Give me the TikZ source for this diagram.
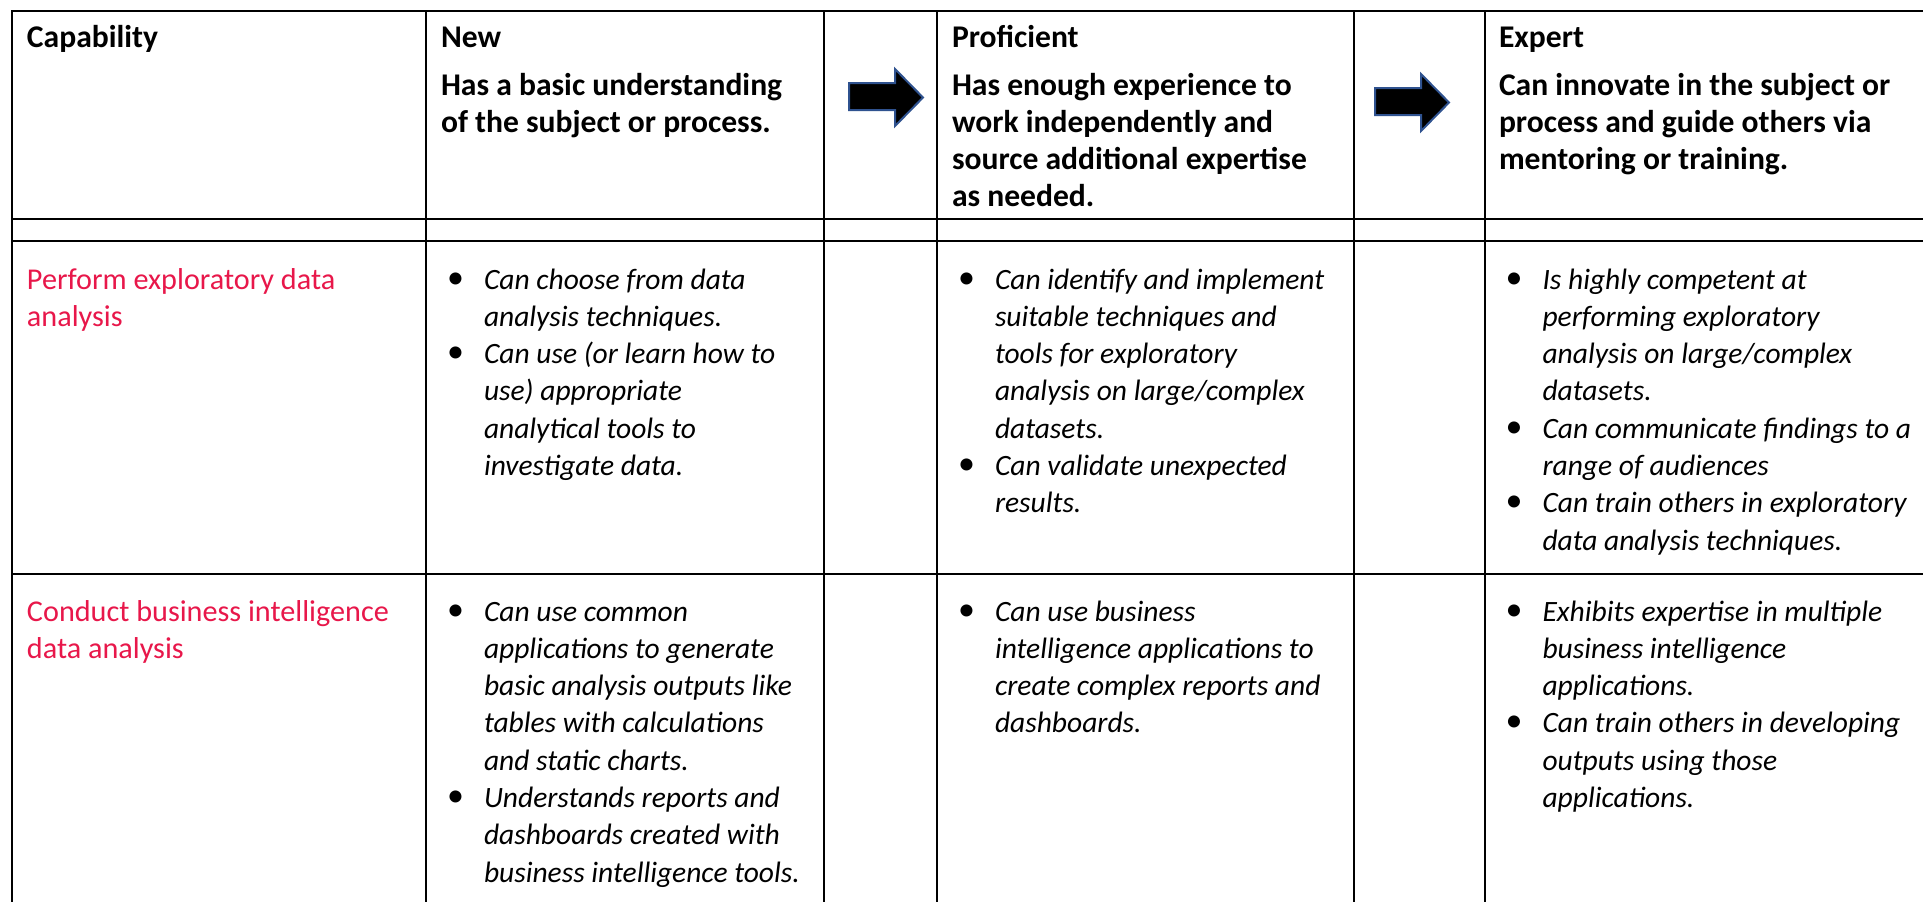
\documentclass[tikz,border=0pt]{standalone}
\usepackage{fontspec}
\setmainfont{Carlito}
\definecolor{capred}{RGB}{232,23,74}
\definecolor{arrowedge}{RGB}{47,82,143}
\newcommand\hsz{\fontsize{29.5}{37.3}\selectfont}
\newcommand\bsz{\fontsize{31.6}{37.3}\selectfont}
\newcommand\rsz{\fontsize{30.2}{37.3}\selectfont}
\newcommand\blt{\makebox[37pt][l]{\raisebox{1pt}{\fontsize{34}{37.3}\selectfont\upshape •}}}
\newcommand\tb[1]{\begin{tabular}[t]{@{}l@{}l@{}}#1\end{tabular}}
\newcommand\tl[1]{\begin{tabular}[t]{@{}l@{}}#1\end{tabular}}
\begin{document}
\begin{tikzpicture}[x=1pt,y=-1pt,
  vline/.style={line width=2pt,black},
  hline/.style={line width=2.3pt,black},
  txt/.style={anchor=base west,inner sep=0pt,outer sep=0pt},
  head/.style={txt,font=\bsz\bfseries},
  body/.style={txt,font=\hsz\itshape},
  capname/.style={txt,font=\rsz,text=capred},
  arrowshape/.style={fill=black,draw=arrowedge,line width=2pt,line join=miter}]
\useasboundingbox[fill=white] (0,0) rectangle (1923,902);
% grid
\foreach \yy in {11,219,241,574} \draw[hline] (11,\yy) -- (1923,\yy);
\foreach \xx in {12,426,824,936.5,1353.5,1485} \draw[vline] (\xx,10) -- (\xx,902);
% arrows
\path[arrowshape] (849,83) -- (895,83) -- (895,69) -- (923,97.5) -- (895,126) -- (895,110) -- (849,110) -- cycle;
\path[arrowshape,shift={(526,5)}] (849,83) -- (895,83) -- (895,69) -- (923,97.5) -- (895,126) -- (895,110) -- (849,110) -- cycle;
% header
\node[head] (hcap) at (27,47) {Capability};
\node[head] (hnew) at (441,47) {New};
\node[head] (hnewd) at (441,95) {\tl{Has a basic understanding\\of the subject or process.}};
\node[head] (hpro) at (952,47) {Proficient};
\node[head] (hprod) at (952,95) {\tl{Has enough experience to\\work independently and\\source additional expertise\\as needed.}};
\node[head] (hexp) at (1499,47) {Expert};
\node[head] (hexpd) at (1499,95) {\tl{Can innovate in the subject or\\process and guide others via\\mentoring or training.}};
% row 1
\node[capname] (c1) at (27,289) {\tl{Perform exploratory data\\analysis}};
\node[body] (n1) at (447,289) {\tb{\blt & Can choose from data\\ & analysis techniques.\\ \blt & Can use (or learn how to\\ & use) appropriate\\ & analytical tools to\\ & investigate data.}};
\node[body] (p1) at (958,289) {\tb{\blt & Can identify and implement\\ & suitable techniques and\\ & tools for exploratory\\ & analysis on large/complex\\ & datasets.\\ \blt & Can validate unexpected\\ & results.}};
\node[body] (e1) at (1505.5,289) {\tb{\blt & Is highly competent at\\ & performing exploratory\\ & analysis on large/complex\\ & datasets.\\ \blt & Can communicate findings to a\\ & range of audiences\\ \blt & Can train others in exploratory\\ & data analysis techniques.}};
% row 2
\node[capname] (c2) at (27,621) {\tl{Conduct business intelligence\\data analysis}};
\node[body] (n2) at (447,621) {\tb{\blt & Can use common\\ & applications to generate\\ & basic analysis outputs like\\ & tables with calculations\\ & and static charts.\\ \blt & Understands reports and\\ & dashboards created with\\ & business intelligence tools.}};
\node[body] (p2) at (958,621) {\tb{\blt & Can use business\\ & intelligence applications to\\ & create complex reports and\\ & dashboards.}};
\node[body] (e2) at (1505.5,621) {\tb{\blt & Exhibits expertise in multiple\\ & business intelligence\\ & applications.\\ \blt & Can train others in developing\\ & outputs using those\\ & applications.}};
\end{tikzpicture}
\end{document}
